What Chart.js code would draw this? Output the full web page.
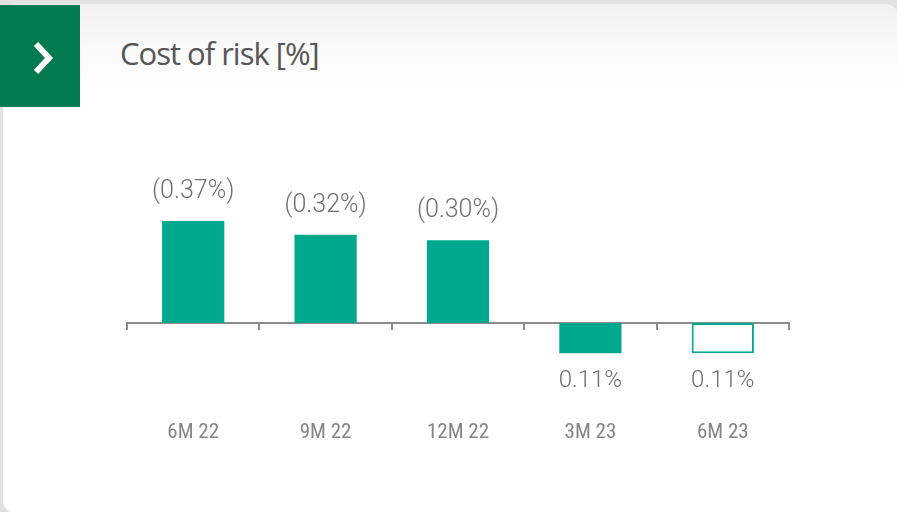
<!DOCTYPE html>
<html>
<head>
<meta charset="utf-8">
<script src="https://cdn.jsdelivr.net/npm/chart.js@4.4.0/dist/chart.umd.min.js"></script>
<style>
  html, body { margin: 0; padding: 0; }
  body { width: 897px; height: 512px; background: #e2e2e2; position: relative; overflow: hidden; }
  .card {
    position: absolute; left: 3px; top: 4px; width: 896px; height: 510px;
    border-radius: 14px 14px 0 14px;
    background: linear-gradient(#f1f1f1 0px, #fafafa 45px, #ffffff 85px, #ffffff 100%);
  }
  .badge { position: absolute; left: 0; top: 5px; width: 80px; height: 102px; background: #007a4e; }
  .badge svg { position: absolute; left: 30px; top: 36px; }
  .title {
    position: absolute; left: 120px; top: 32px;
    font-family: "Open Sans", Roboto, sans-serif; font-size: 31px; color: #555;
    letter-spacing: -1px;
  }
  #wrap { position: absolute; left: 0; top: 0; width: 897px; height: 512px; }
</style>
</head>
<body>
<div class="card"></div>
<div class="badge">
  <svg width="26" height="34" viewBox="0 0 26 34"><polyline points="6,3 19,17 6,31" fill="none" stroke="#fff" stroke-width="6"/></svg>
</div>
<div class="title">Cost of risk [%]</div>
<div id="wrap"><canvas id="myChart"></canvas></div>
<script>
// periods and cost of risk (shown up = release, down = charge)
var periods = ["6M 22", "9M 22", "12M 22", "3M 23", "6M 23"];
var costOfRisk = [0.37, 0.32, 0.30, -0.11, -0.11];

var teal = "#00a98d";

function fmt(v){
    return v > 0 ? "(" + v.toFixed(2) + "%)" : (-v).toFixed(2) + "%";
}

var valueLabels = {
    id: "valueLabels",
    afterDatasetsDraw: function(chart){
        var ctx = chart.ctx;
        var meta = chart.getDatasetMeta(0);
        ctx.save();
        ctx.fillStyle = "#707070";
        ctx.textAlign = "center";
        ctx.textBaseline = "middle";
        meta.data.forEach(function(bar, i){
            var v = costOfRisk[i];
            ctx.font = (v > 0 ? "300 25px" : "300 24px") + " Roboto, sans-serif";
            var y = v > 0 ? bar.y - 29 : bar.y + 28;
            ctx.fillText(fmt(v), bar.x, y);
        });
        ctx.restore();
    }
};

var ctx = document.getElementById('myChart').getContext('2d');
var chart = new Chart(ctx, {
    type: 'bar',
    data: {
        labels: periods,
        datasets: [{
            data: costOfRisk,
            backgroundColor: function(c){ return c.dataIndex === periods.length - 1 ? "#ffffff" : teal; },
            borderColor: teal,
            borderWidth: function(c){ return c.dataIndex === periods.length - 1 ? 2 : 0; },
            borderSkipped: false,
            barPercentage: 0.47,
            categoryPercentage: 1
        }]
    },
    options: {
        responsive: true,
        maintainAspectRatio: false,
        animation: false,
        layout: { padding: { left: 127, right: 108, top: 185, bottom: 51 } },
        plugins: { legend: { display: false }, tooltip: { enabled: false } },
        scales: {
            y: { display: false, min: -0.5, max: 0.5 },
            x: {
                position: { y: 0 },
                z: 1,
                border: { display: true, color: "#8c8c8c", width: 2 },
                grid: { offset: true, drawOnChartArea: false, tickLength: 6, color: "#8c8c8c", lineWidth: 2 },
                ticks: {
                    padding: 91,
                    color: "#858585",
                    font: { family: "'Liberation Sans Narrow', 'Roboto Condensed', Roboto, sans-serif", size: 21 }
                }
            }
        }
    },
    plugins: [valueLabels]
});
</script>
</body>
</html>
